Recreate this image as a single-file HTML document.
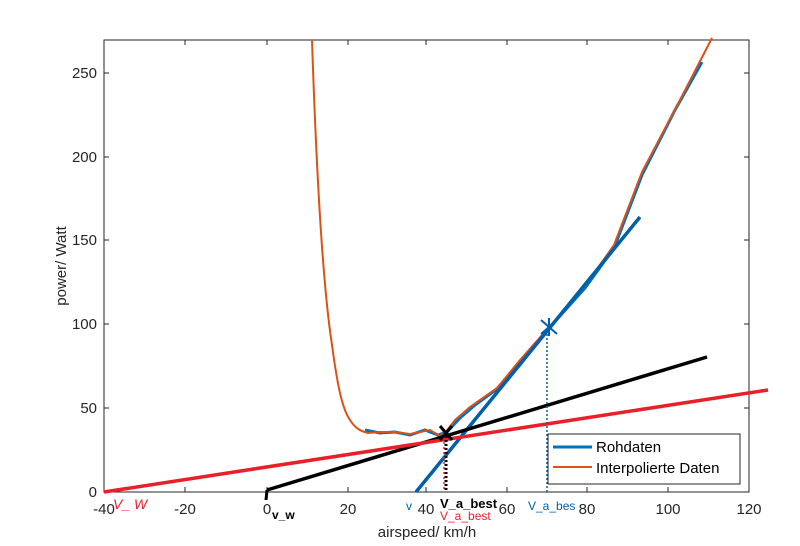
<!DOCTYPE html>
<html><head><style>body{margin:0;background:#fff}svg{display:block}</style></head>
<body>
<svg width="800" height="546" xmlns="http://www.w3.org/2000/svg" font-family="Liberation Sans, sans-serif">
<rect width="800" height="546" fill="#fff"/>
<rect x="104" y="40" width="645" height="452" fill="#fff" stroke="#262626" stroke-width="1"/>
<g stroke="#262626" stroke-width="1">
<line x1="185" y1="492" x2="185" y2="487"/><line x1="267" y1="492" x2="267" y2="487"/><line x1="348" y1="492" x2="348" y2="487"/><line x1="426" y1="492" x2="426" y2="487"/><line x1="507" y1="492" x2="507" y2="487"/><line x1="587" y1="492" x2="587" y2="487"/><line x1="668" y1="492" x2="668" y2="487"/>
<line x1="185" y1="40" x2="185" y2="45"/><line x1="267" y1="40" x2="267" y2="45"/><line x1="348" y1="40" x2="348" y2="45"/><line x1="426" y1="40" x2="426" y2="45"/><line x1="507" y1="40" x2="507" y2="45"/><line x1="587" y1="40" x2="587" y2="45"/><line x1="668" y1="40" x2="668" y2="45"/>
<line x1="104" y1="408" x2="109" y2="408"/><line x1="104" y1="324" x2="109" y2="324"/><line x1="104" y1="240" x2="109" y2="240"/><line x1="104" y1="157" x2="109" y2="157"/><line x1="104" y1="73" x2="109" y2="73"/>
<line x1="749" y1="408" x2="744" y2="408"/><line x1="749" y1="324" x2="744" y2="324"/><line x1="749" y1="240" x2="744" y2="240"/><line x1="749" y1="157" x2="744" y2="157"/><line x1="749" y1="73" x2="744" y2="73"/>
</g>
<g font-size="15" fill="#262626" text-anchor="middle">
<text x="104" y="514">-40</text><text x="185" y="514">-20</text><text x="267" y="514">0</text><text x="348" y="514">20</text><text x="426" y="514">40</text><text x="507" y="514">60</text><text x="587" y="514">80</text><text x="668" y="514">100</text><text x="749" y="514">120</text>
</g>
<g font-size="15" fill="#262626" text-anchor="end">
<text x="97" y="497">0</text><text x="97" y="413">50</text><text x="97" y="329">100</text><text x="97" y="245">150</text><text x="97" y="162">200</text><text x="97" y="78">250</text>
</g>
<text x="427" y="537" font-size="15" fill="#262626" text-anchor="middle">airspeed/ km/h</text>
<text transform="translate(66,266) rotate(-90)" font-size="15" fill="#262626" text-anchor="middle">power/ Watt</text>
<polyline fill="none" stroke="#0072BD" stroke-width="3" points="365,430 380,433 395,432 410,435 425,430 438,435 447,432 460,418 475,405 497,389 520,362 550,327 585,288 614,248 642,175 675,110 702,62"/>
<path fill="none" stroke="#D95319" stroke-width="2" d="M312,40 C316,160 322,280 332,345 C338,390 343,410 350,420 C355,428 360,431 368,433 L380,432 L395,432 L410,434 L420,432 L430,430 L440,436 L445,433 L455,420 L470,407 L497,388 L520,360 L550,326 L585,286 L614,245 L642,172 L680,100 L712,38"/>
<line x1="416" y1="492" x2="640" y2="217" stroke="#0060A8" stroke-width="3.5"/>
<line x1="267" y1="490" x2="707" y2="357" stroke="#000" stroke-width="3.5"/>
<line x1="104" y1="492" x2="768" y2="390" stroke="#E8202A" stroke-width="3.5"/>
<line x1="547" y1="330" x2="547" y2="492" stroke="#0060A8" stroke-width="1.5" stroke-dasharray="2,2"/>
<line x1="446" y1="432" x2="446" y2="492" stroke="#000" stroke-width="3" stroke-dasharray="2,2"/>
<line x1="444" y1="432" x2="444" y2="492" stroke="#E8202A" stroke-width="1.5" stroke-dasharray="2,3"/>
<g stroke="#0060A8" stroke-width="2"><line x1="541" y1="320" x2="557" y2="334"/><line x1="541" y1="334" x2="557" y2="320"/><line x1="549" y1="318" x2="549" y2="336"/></g>
<g stroke="#000" stroke-width="3"><line x1="440" y1="426" x2="452" y2="440"/><line x1="440" y1="440" x2="452" y2="426"/></g>
<path d="M267,490 L266,500" stroke="#000" stroke-width="3"/>
<text x="113" y="509" font-size="14" fill="#E8202A" font-style="italic">V_ W</text>
<text x="272" y="519" font-size="12" fill="#000" font-weight="bold">v_w</text>
<text x="406" y="510" font-size="12" fill="#0060A8">v</text>
<text x="440" y="508" font-size="13" fill="#000" font-weight="bold">V_a_best</text>
<text x="440" y="520" font-size="12" fill="#E8202A">V_a_best</text>
<text x="528" y="510" font-size="12" fill="#0060A8">V_a_bes</text>
<rect x="548" y="434" width="192" height="50" fill="#fff" stroke="#262626" stroke-width="1"/>
<line x1="553" y1="447" x2="592" y2="447" stroke="#0072BD" stroke-width="3"/>
<line x1="553" y1="467" x2="592" y2="467" stroke="#D95319" stroke-width="2"/>
<text x="596" y="452" font-size="15" fill="#000">Rohdaten</text>
<text x="596" y="473" font-size="15" fill="#000">Interpolierte Daten</text>
</svg>
</body></html>
